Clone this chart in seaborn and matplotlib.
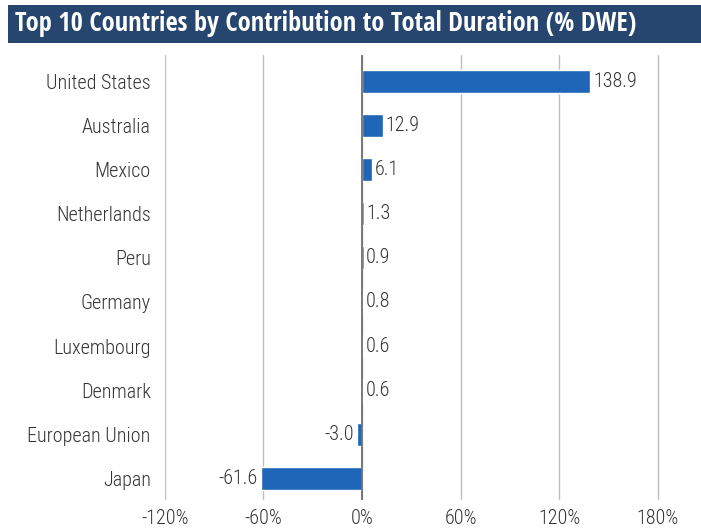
import matplotlib
matplotlib.use("Agg")
import matplotlib.pyplot as plt
import seaborn as sns
import pandas as pd
from matplotlib.ticker import FuncFormatter

countries = ["United States", "Australia", "Mexico", "Netherlands", "Peru",
             "Germany", "Luxembourg", "Denmark", "European Union", "Japan"]
contribution = [138.9, 12.9, 6.1, 1.3, 0.9, 0.8, 0.6, 0.6, -3.0, -61.6]
x_ticks = [-120, -60, 0, 60, 120, 180]

df = pd.DataFrame({"country": countries, "value": contribution})

sns.set_style("white")
plt.rcParams["font.family"] = ["Roboto Condensed", "Open Sans", "DejaVu Sans"]
plt.rcParams["font.weight"] = 300

fig = plt.figure(figsize=(7.01, 5.31), dpi=100)
ax = fig.add_axes([0.235, 0.058, 0.706, 0.838])

sns.barplot(data=df, x="value", y="country", orient="h", color="#1f66b8",
            saturation=1, width=0.52, ax=ax)

ax.set_xlim(-120, 181)
ax.set_ylim(9.5, -0.6)
ax.set_xticks(x_ticks)
ax.xaxis.set_major_formatter(FuncFormatter(lambda v, p: f"{v:.0f}%"))
ax.grid(axis="x", color="#bfbfbf", linewidth=1)
ax.set_axisbelow(True)
ax.axvline(0, color="#707070", linewidth=1.3, zorder=3)
for s in ax.spines.values():
    s.set_visible(False)
ax.set_xlabel("")
ax.set_ylabel("")
ax.tick_params(axis="both", length=0, labelsize=14.5, colors="#333333")
ax.tick_params(axis="y", pad=10)
ax.tick_params(axis="x", pad=6)

for i, v in enumerate(contribution):
    if v >= 0:
        ax.text(v + 1.5, i, f"{v:.1f}", va="center", ha="left", fontsize=14.5, color="#333333")
    else:
        ax.text(v - 2, i, f"{v:.1f}", va="center", ha="right", fontsize=14.5, color="#333333")

# title banner
fig.patches.append(plt.Rectangle((0.012, 0.919), 0.988, 0.072, transform=fig.transFigure,
                                 facecolor="#26466f", edgecolor="none"))
fig.text(0.022, 0.955, "Top 10 Countries by Contribution to Total Duration (% DWE)",
         color="white", fontsize=19, family="Open Sans Condensed", fontweight="bold",
         va="center", ha="left")

fig.savefig("out.png", dpi=100)
